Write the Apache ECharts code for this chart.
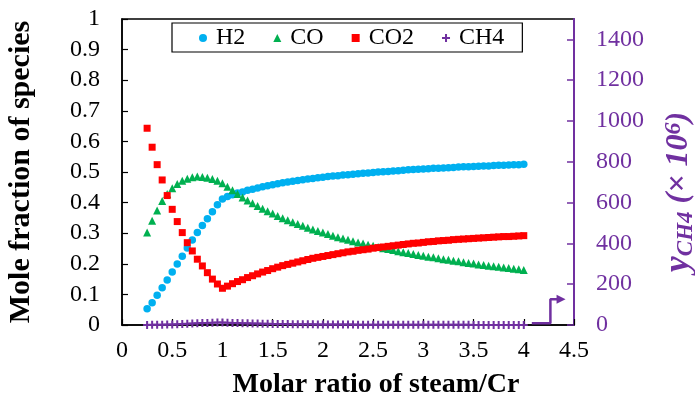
<!DOCTYPE html>
<html>
<head>
<meta charset="utf-8">
<script src="https://cdn.jsdelivr.net/npm/echarts@6/dist/echarts.min.js"></script>
<style>
  html, body { margin: 0; padding: 0; background: #ffffff; }
  #chart { width: 695px; height: 412px; }
</style>
</head>
<body>
<div id="chart"></div>
<script>
// Molar ratio of steam to Cr
const ratio = [
  0.25, 0.30, 0.35, 0.40, 0.45, 0.50, 0.55, 0.60, 0.65, 0.70,
  0.75, 0.80, 0.85, 0.90, 0.95, 1.00, 1.05, 1.10, 1.15, 1.20,
  1.25, 1.30, 1.35, 1.40, 1.45, 1.50, 1.55, 1.60, 1.65, 1.70,
  1.75, 1.80, 1.85, 1.90, 1.95, 2.00, 2.05, 2.10, 2.15, 2.20,
  2.25, 2.30, 2.35, 2.40, 2.45, 2.50, 2.55, 2.60, 2.65, 2.70,
  2.75, 2.80, 2.85, 2.90, 2.95, 3.00, 3.05, 3.10, 3.15, 3.20,
  3.25, 3.30, 3.35, 3.40, 3.45, 3.50, 3.55, 3.60, 3.65, 3.70,
  3.75, 3.80, 3.85, 3.90, 3.95, 4.00
];

// Mole fractions (left axis)
const h2 = [
  0.053, 0.073, 0.097, 0.122, 0.147, 0.173, 0.199, 0.225, 0.252, 0.278,
  0.302, 0.325, 0.347, 0.370, 0.393, 0.412, 0.420, 0.426, 0.431, 0.435,
  0.440, 0.444, 0.448, 0.452, 0.455, 0.458, 0.462, 0.465, 0.467, 0.470,
  0.472, 0.475, 0.477, 0.479, 0.481, 0.483, 0.485, 0.487, 0.488, 0.490,
  0.491, 0.493, 0.494, 0.496, 0.497, 0.498, 0.500, 0.501, 0.502, 0.503,
  0.504, 0.506, 0.507, 0.508, 0.509, 0.510, 0.511, 0.512, 0.512, 0.513,
  0.514, 0.515, 0.516, 0.517, 0.517, 0.518, 0.519, 0.520, 0.520, 0.521,
  0.522, 0.522, 0.523, 0.524, 0.524, 0.525
];
const co = [
  0.302, 0.341, 0.374, 0.405, 0.428, 0.447, 0.461, 0.471, 0.478, 0.483,
  0.485, 0.484, 0.481, 0.477, 0.471, 0.463, 0.452, 0.440, 0.428, 0.417,
  0.407, 0.398, 0.389, 0.380, 0.372, 0.364, 0.356, 0.349, 0.342, 0.336,
  0.330, 0.324, 0.318, 0.312, 0.307, 0.302, 0.297, 0.292, 0.287, 0.283,
  0.279, 0.274, 0.270, 0.266, 0.262, 0.259, 0.255, 0.251, 0.248, 0.245,
  0.241, 0.238, 0.235, 0.232, 0.229, 0.226, 0.223, 0.221, 0.218, 0.215,
  0.213, 0.210, 0.208, 0.205, 0.203, 0.201, 0.198, 0.196, 0.194, 0.192,
  0.190, 0.188, 0.186, 0.184, 0.182, 0.180
];
const co2 = [
  0.643, 0.581, 0.524, 0.474, 0.423, 0.378, 0.338, 0.302, 0.269, 0.242,
  0.215, 0.193, 0.171, 0.150, 0.134, 0.120, 0.127, 0.135, 0.142, 0.148,
  0.155, 0.161, 0.167, 0.173, 0.178, 0.184, 0.189, 0.194, 0.198, 0.202,
  0.206, 0.210, 0.214, 0.218, 0.221, 0.224, 0.227, 0.230, 0.233, 0.236,
  0.239, 0.241, 0.244, 0.246, 0.248, 0.251, 0.253, 0.255, 0.257, 0.259,
  0.261, 0.263, 0.265, 0.267, 0.268, 0.270, 0.272, 0.273, 0.275, 0.276,
  0.277, 0.279, 0.280, 0.281, 0.282, 0.283, 0.284, 0.285, 0.286, 0.287,
  0.288, 0.289, 0.289, 0.290, 0.291, 0.292
];
// CH4 in ppm (right axis)
const ch4 = [
  0.5, 0.8, 1.2, 1.7, 2.3, 3.0, 3.8, 4.7, 5.7, 6.8,
  8.0, 9.2, 10.3, 11.2, 11.8, 12.0, 11.2, 10.3, 9.5, 8.8,
  8.1, 7.5, 6.9, 6.4, 5.9, 5.5, 5.1, 4.7, 4.4, 4.1,
  3.8, 3.5, 3.3, 3.1, 2.9, 2.7, 2.5, 2.4, 2.2, 2.1,
  2.0, 1.9, 1.8, 1.7, 1.6, 1.5, 1.4, 1.4, 1.3, 1.2,
  1.2, 1.1, 1.1, 1.0, 1.0, 0.9, 0.9, 0.9, 0.8, 0.8,
  0.8, 0.7, 0.7, 0.7, 0.7, 0.6, 0.6, 0.6, 0.6, 0.6,
  0.5, 0.5, 0.5, 0.5, 0.5, 0.5
];

// Right-axis tick values
const ch4Ticks = [0, 200, 400, 600, 800, 1000, 1200, 1400];

// Pointer toward the CH4 axis (x on bottom axis, y on right axis)
const pointerX = [4.08, 4.265, 4.265, 4.371];
const pointerY = [8, 8, 126, 126];

const SERIF = '"Liberation Serif", "Times New Roman", serif';
const PURPLE = '#7030A0';
const PLUS = 'path://M3,0H5V3H8V5H5V8H3V5H0V3H3Z';

const pairs = (ys) => ratio.map((x, i) => [x, ys[i]]);

const chart = echarts.init(document.getElementById('chart'));
chart.setOption({
  animation: false,
  backgroundColor: '#ffffff',
  grid: {
    left: 122, right: 121, top: 19, bottom: 87,
    outerBoundsMode: 'none', containLabel: false,
    show: true, borderColor: '#000', borderWidth: 1.5, backgroundColor: 'transparent'
  },
  legend: {
    data: ['H2', 'CO', 'CO2', 'CH4'],
    left: 172, top: 23,
    padding: [3, 18, 2, 27],
    itemGap: 28,
    itemWidth: 8, itemHeight: 8,
    borderColor: '#000', borderWidth: 1.2, borderRadius: 0,
    textStyle: { fontFamily: SERIF, fontSize: 24, color: '#000', padding: [0, 0, 0, 4] }
  },
  xAxis: {
    type: 'value', min: 0, max: 4.5, interval: 0.5,
    name: 'Molar ratio of steam/Cr', nameLocation: 'middle', nameGap: 46,
    nameTextStyle: { fontFamily: SERIF, fontSize: 28, fontWeight: 'bold', color: '#000', padding: [0, 0, 0, 56] },
    axisLine: { lineStyle: { color: '#000', width: 1.5 } },
    axisTick: { inside: true, length: 6, lineStyle: { color: '#000', width: 1.2 } },
    axisLabel: { fontFamily: SERIF, fontSize: 24, color: '#000', margin: 14 },
    splitLine: { show: false }
  },
  yAxis: [
    {
      type: 'value', min: 0, max: 1, interval: 0.1,
      name: 'Mole fraction of species', nameLocation: 'middle', nameGap: 86, nameRotate: 90,
      nameTextStyle: { fontFamily: SERIF, fontSize: 30, fontWeight: 'bold', color: '#000' },
      axisLine: { show: true, lineStyle: { color: '#000', width: 1.5 } },
      axisTick: { show: true, inside: true, length: 6, lineStyle: { color: '#000', width: 1.2 } },
      axisLabel: { fontFamily: SERIF, fontSize: 24, color: '#000', margin: 22 },
      splitLine: { show: false }
    },
    {
      type: 'value', min: 0, max: 1500, position: 'right',
      name: '{y|y}{sub|CH4}{t| (× 10}{sup|6}{t|)}',
      nameLocation: 'middle', nameGap: 86, nameRotate: 90,
      nameTextStyle: {
        color: PURPLE, fontFamily: SERIF, padding: [0, 40, 0, 0],
        rich: {
          y: { fontFamily: SERIF, fontSize: 36, fontStyle: 'italic', fontWeight: 'bold', color: PURPLE },
          sub: { fontFamily: SERIF, fontSize: 23, fontStyle: 'italic', fontWeight: 'bold', color: PURPLE, padding: [15, 0, 0, 0] },
          t: { fontFamily: SERIF, fontSize: 32, fontStyle: 'italic', fontWeight: 'bold', color: PURPLE },
          sup: { fontFamily: SERIF, fontSize: 24, fontStyle: 'italic', fontWeight: 'bold', color: PURPLE, padding: [0, 0, 11, 0] }
        }
      },
      axisLine: { show: true, lineStyle: { color: PURPLE, width: 2 } },
      axisTick: { show: true, inside: true, length: 7, customValues: ch4Ticks, lineStyle: { color: PURPLE, width: 1.5 } },
      axisLabel: {
        fontFamily: SERIF, fontSize: 24, color: PURPLE, margin: 22, customValues: ch4Ticks,
        formatter: (v) => String(v)
      },
      splitLine: { show: false }
    }
  ],
  series: [
    {
      name: 'H2', type: 'scatter', symbol: 'circle', symbolSize: 7.5,
      itemStyle: { color: '#00B0F0', opacity: 1 }, data: pairs(h2)
    },
    {
      name: 'CO', type: 'scatter', symbol: 'triangle', symbolSize: 8,
      itemStyle: { color: '#00B050', opacity: 1 }, data: pairs(co)
    },
    {
      name: 'CO2', type: 'scatter', symbol: 'rect', symbolSize: 7,
      itemStyle: { color: '#FF0000', opacity: 1 }, data: pairs(co2)
    },
    {
      name: 'CH4', type: 'scatter', symbol: PLUS, symbolSize: 8, yAxisIndex: 1,
      itemStyle: { color: PURPLE, opacity: 1 }, data: pairs(ch4)
    },
    {
      type: 'line', yAxisIndex: 1, silent: true,
      lineStyle: { color: PURPLE, width: 2.5 },
      symbol: 'none',
      data: pointerX.map((x, i) => (i === pointerX.length - 1
        ? { value: [x, pointerY[i]], symbol: 'triangle', symbolSize: 9, symbolRotate: -90, itemStyle: { color: PURPLE } }
        : [x, pointerY[i]])),
      showSymbol: true
    }
  ]
});
</script>
</body>
</html>
